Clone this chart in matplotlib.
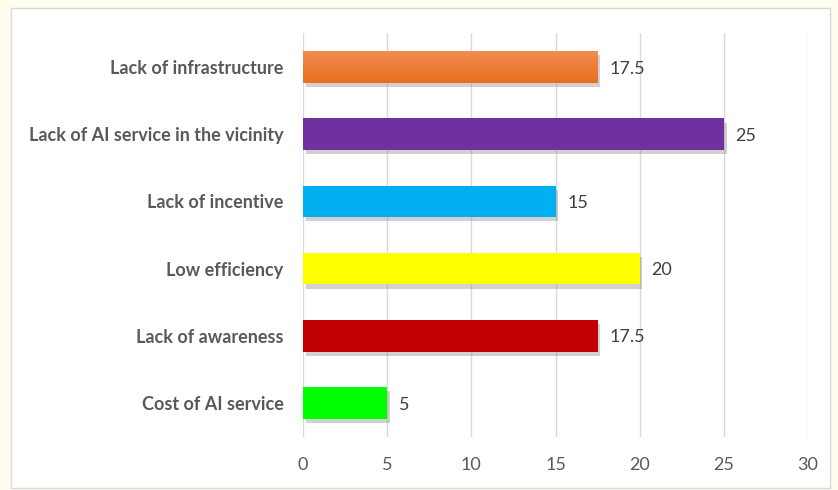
import matplotlib
matplotlib.use("Agg")
import matplotlib.pyplot as plt
import matplotlib.patheffects as pe
import numpy as np
from matplotlib.patches import Rectangle
from matplotlib.colors import LinearSegmentedColormap

categories = ["Cost of AI service", "Lack of awareness", "Low efficiency",
              "Lack of incentive", "Lack of AI service in the vicinity",
              "Lack of infrastructure"]
values = [5, 17.5, 20, 15, 25, 17.5]
colors = ["#00FF00", "#C00000", "#FFFF00", "#00B0F0", "#7030A0", "#EE7A2E"]
xticks = [0, 5, 10, 15, 20, 25, 30]

plt.rcParams['font.family'] = ['Lato', 'DejaVu Sans']

fig = plt.figure(figsize=(8.38, 4.90), dpi=100)
fig.patch.set_facecolor("#FFFDF0")
# inner white panel
fig.patches.append(Rectangle((11/838, 2/490), 819/838, 480/490, transform=fig.transFigure,
                             facecolor="white", edgecolor="#D9D9D9", linewidth=1, zorder=-5))

ax = fig.add_axes([303/838, 1 - 436.6/490, 505/838, 403.2/490])
ax.set_facecolor("none")
ax.set_zorder(1)
y = list(range(len(categories)))
bars = ax.barh(y, values, height=0.47, color=colors, zorder=3)
for b in bars:
    b.set_path_effects([pe.SimplePatchShadow(offset=(2, -3), shadow_rgbFace="#8C8C8C", alpha=0.4),
                        pe.Normal()])

# gradient on the orange bar (top lighter)
ob = bars[-1]
cmap = LinearSegmentedColormap.from_list("og", ["#E96E1E", "#F28D52"])
grad = np.linspace(0, 1, 64).reshape(-1, 1)
x0, y0 = ob.get_x(), ob.get_y()
im = ax.imshow(grad, cmap=cmap, aspect="auto", origin="lower",
               extent=(x0, x0 + ob.get_width(), y0, y0 + ob.get_height()), zorder=3.5)
im.set_clip_path(ob)

for i, v in enumerate(values):
    ax.text(v + 0.7, i, f"{v:g}", va="center_baseline", ha="left", fontsize=13, color="#404040")

ax.set_xlim(0, 30)
ax.set_ylim(-0.5, len(categories) - 0.5)
ax.set_xticks(xticks)
ax.set_xticklabels([str(t) for t in xticks])
ax.set_yticks(y)
ax.set_yticklabels(categories, fontweight="bold")
ax.tick_params(axis="y", length=0, pad=14, labelsize=13, labelcolor="#595959")
ax.tick_params(axis="x", length=0, pad=15, labelsize=13, labelcolor="#595959")
ax.grid(axis="x", color="#D9D9D9", linewidth=1, zorder=0)
for s in ax.spines.values():
    s.set_visible(False)

fig.savefig("out.png", dpi=100, facecolor=fig.get_facecolor())
